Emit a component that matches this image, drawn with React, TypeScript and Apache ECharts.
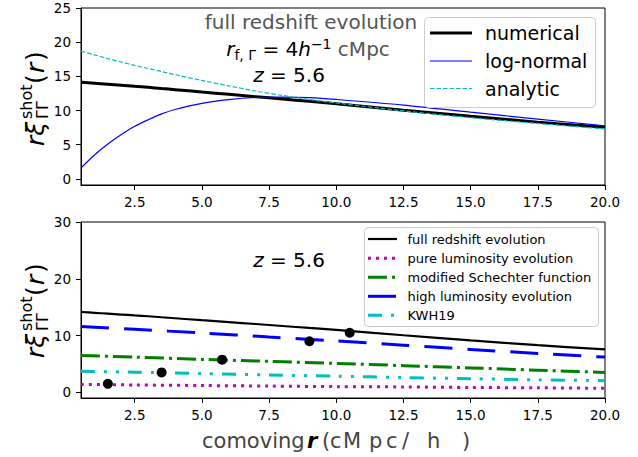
import React, { useEffect, useRef } from "react";
import * as echarts from "echarts";

// ---- data ----
const rTop = [0.5, 1, 1.5, 2, 2.5, 3, 3.5, 4, 5, 6, 7, 8, 9, 10, 12.5, 15, 17.5, 20];
const numerical = [14.15, 14.0, 13.85, 13.7, 13.55, 13.4, 13.22, 13.05, 12.7, 12.37, 12.03, 11.68, 11.34, 11.0, 10.05, 9.15, 8.3, 7.55];
const logNormal = [1.6, 3.5, 5.1, 6.5, 7.7, 8.65, 9.5, 10.15, 11.05, 11.6, 11.9, 11.97, 11.88, 11.62, 10.8, 9.75, 8.75, 7.75];
const analytic = [18.7, 18.15, 17.6, 17.1, 16.6, 16.15, 15.7, 15.25, 14.4, 13.6, 12.85, 12.2, 11.6, 11.1, 9.95, 8.95, 8.1, 7.3];

const rBot = [0.5, 2.5, 5, 7.5, 10, 12.5, 15, 17.5, 20];
const highLum = [11.6, 11.1, 10.45, 9.75, 9.05, 8.3, 7.55, 6.85, 6.2];
const modSchechter = [6.5, 6.2, 5.8, 5.45, 5.1, 4.7, 4.3, 3.9, 3.5];
const kwh19 = [3.7, 3.55, 3.3, 3.05, 2.85, 2.6, 2.4, 2.2, 2.05];
const pureLum = [1.4, 1.3, 1.2, 1.1, 1.0, 0.95, 0.85, 0.8, 0.7];
const dotR = [1.5, 3.5, 5.75, 9, 10.5];
const dotV = [1.5, 3.5, 5.75, 9, 10.5];

const xTicks = [2.5, 5, 7.5, 10, 12.5, 15, 17.5, 20];
const yTicksTop = [0, 5, 10, 15, 20, 25];
const yTicksBot = [0, 10, 20, 30];

const topLegend = ["numerical", "log-normal", "analytic"];
const botLegend = [
  "full redshift evolution",
  "pure luminosity evolution",
  "modified Schechter function",
  "high luminosity evolution",
  "KWH19",
];

const FONT = "DejaVu Sans";
const zip = (xs: number[], ys: number[]) => xs.map((x, i) => [x, ys[i]]);

const styles = {
  numerical: { color: "#000000", width: 3, type: "solid" as any },
  logNormal: { color: "#0000ff", width: 1.2, type: "solid" as any },
  analytic: { color: "#00bfbf", width: 1.2, type: [4.5, 2] as any },
  full: { color: "#000000", width: 2.2, type: "solid" as any },
  pure: { color: "#bf00bf", width: 3, type: [3, 5] as any },
  mod: { color: "#008000", width: 3, type: [19, 5, 3, 5] as any },
  high: { color: "#0000ff", width: 3, type: [28, 15] as any },
  kwh: { color: "#00bfbf", width: 3, type: [14, 9, 3, 9, 3, 9] as any },
};

function lineSeries(name: string, xi: number, data: number[][], st: any, z = 2) {
  return {
    name,
    type: "line",
    xAxisIndex: xi,
    yAxisIndex: xi,
    data,
    showSymbol: false,
    smooth: 0.3,
    z,
    lineStyle: { color: st.color, width: st.width, type: st.type, cap: "butt" },
    itemStyle: { color: st.color },
  };
}

function legendSample(x1: number, x2: number, y: number, st: any) {
  return {
    type: "line",
    z: 101,
    shape: { x1, y1: y, x2, y2: y },
    style: {
      stroke: st.color,
      lineWidth: st.width,
      lineDash: Array.isArray(st.type) ? st.type : null,
      lineCap: "butt",
    },
  };
}

function txt(x: number, y: number, text: string, font: string, fill = "#000", align = "left", z = 101) {
  return {
    type: "text",
    z,
    x,
    y,
    style: {
      text,
      fill,
      font,
      textAlign: align,
      textVerticalAlign: "middle",
      align,
      verticalAlign: "middle",
    },
  };
}

function yLabel(cx: number, cyBottom: number) {
  return {
    type: "group",
    x: cx,
    y: cyBottom,
    rotation: Math.PI / 2,
    z: 100,
    children: [
      txt(0, 0, "rξ", `italic 25px "${FONT}"`),
      txt(27, -9, "shot", `16px "${FONT}"`),
      txt(27, 7, "ΓΓ", `16px "${FONT}"`),
      txt(62, 0, "(", `25px "${FONT}"`),
      txt(73, 0, "r", `italic 25px "${FONT}"`),
      txt(85, 0, ")", `25px "${FONT}"`),
    ],
  };
}

function zText(x: number, y: number) {
  return {
    type: "text",
    z: 100,
    x,
    y,
    style: {
      text: "{i|z} = 5.6",
      fill: "#000",
      font: `20px "${FONT}"`,
      textAlign: "center",
      textVerticalAlign: "middle",
      align: "center",
      verticalAlign: "middle",
      rich: {
        i: { fontStyle: "italic", fontSize: 20, fontFamily: FONT, fill: "#000" },
      },
    },
  };
}

export default function App() {
  const ref = useRef<HTMLDivElement>(null);
  useEffect(() => {
    if (!ref.current) return;
    const chart = echarts.init(ref.current, null, { renderer: "svg" });

    const axisCommon = {
      type: "value",
      splitLine: { show: false },
      axisLine: { show: true, onZero: false, lineStyle: { color: "#000", width: 1 } },
      axisTick: { show: true, inside: false, length: 5, lineStyle: { color: "#000", width: 1 } },
    };

    const xAxis = (gi: number) => ({
      ...axisCommon,
      gridIndex: gi,
      min: 0.5,
      max: 20,
      axisTick: { ...axisCommon.axisTick, customValues: xTicks },
      axisLabel: {
        customValues: xTicks,
        formatter: (v: number) => v.toFixed(1),
        color: "#000",
        fontSize: 13.5,
        fontFamily: FONT,
        margin: 10,
        showMinLabel: true,
        showMaxLabel: true,
      },
    });

    const yAxis = (gi: number, min: number, max: number, ticks: number[]) => ({
      ...axisCommon,
      gridIndex: gi,
      min,
      max,
      axisTick: { ...axisCommon.axisTick, customValues: ticks },
      axisLabel: {
        customValues: ticks,
        color: "#000",
        fontSize: 13.5,
        fontFamily: FONT,
        margin: 10,
        showMinLabel: true,
        showMaxLabel: true,
      },
    });

    const topRows = [33, 61, 88.5];
    const botRows = [239, 258.2, 277.3, 296.3, 315.3];
    const topStyles = [styles.numerical, styles.logNormal, styles.analytic];
    const botStyles = [styles.full, styles.pure, styles.mod, styles.high, styles.kwh];

    const xl = `21px "${FONT}"`;
    const xlGray = "#444";

    const graphics: any[] = [
      // top annotation
      txt(311, 22, "full redshift evolution", `20px "${FONT}"`, "#555", "center", 100),
      {
        type: "text",
        z: 100,
        x: 308,
        y: 49,
        style: {
          text: "{i|r}{sub|f, Γ}{n| = 4}{i|h}{sup|−1}{g| cMpc}",
          fill: "#000",
          font: `20px "${FONT}"`,
          textAlign: "center",
          textVerticalAlign: "middle",
          align: "center",
          verticalAlign: "middle",
          rich: {
            i: { fontStyle: "italic", fontSize: 20, fontFamily: FONT, fill: "#000", lineHeight: 25, verticalAlign: "middle" },
            n: { fontSize: 20, fontFamily: FONT, fill: "#000", lineHeight: 25, verticalAlign: "middle" },
            sub: { fontSize: 14, fontFamily: FONT, fill: "#000", lineHeight: 11, verticalAlign: "bottom" },
            sup: { fontSize: 14, fontFamily: FONT, fill: "#000", lineHeight: 11, verticalAlign: "top" },
            g: { fontSize: 20, fontFamily: FONT, fill: "#555", lineHeight: 25, verticalAlign: "middle" },
          },
        },
      },
      zText(289, 75),
      zText(289, 260),
      // top legend
      {
        type: "rect",
        z: 100,
        shape: { x: 424.5, y: 17.5, width: 171, height: 90, r: 4 },
        style: { fill: "rgba(255,255,255,0.8)", stroke: "#cccccc", lineWidth: 1 },
      },
      ...topRows.map((y, i) => legendSample(430, 472, y, topStyles[i])),
      ...topRows.map((y, i) => txt(485, y, topLegend[i], `19px "${FONT}"`)),
      // bottom legend
      {
        type: "rect",
        z: 100,
        shape: { x: 364.5, y: 227.5, width: 234, height: 99, r: 4 },
        style: { fill: "rgba(255,255,255,0.8)", stroke: "#cccccc", lineWidth: 1 },
      },
      ...botRows.map((y, i) => legendSample(368, 397, y, botStyles[i])),
      ...botRows.map((y, i) => txt(407.5, y, botLegend[i], `13px "${FONT}"`)),
      // y labels
      yLabel(35, 146),
      yLabel(35, 358),
      // x label (mathtext-like spacing)
      txt(202, 441, "comoving", xl, xlGray, "left", 100),
      txt(307, 441, "r", `italic bold ${xl}`, "#000", "left", 100),
      txt(322, 441, "(", xl, xlGray, "left", 100),
      txt(330, 441, "c", xl, xlGray, "left", 100),
      txt(343, 441, "M", xl, xlGray, "left", 100),
      txt(369, 441, "p", xl, xlGray, "left", 100),
      txt(386, 441, "c", xl, xlGray, "left", 100),
      txt(402, 441, "/", xl, xlGray, "left", 100),
      txt(427, 441, "h", xl, xlGray, "left", 100),
      txt(462, 441, ")", xl, xlGray, "left", 100),
    ];

    chart.setOption({
      animation: false,
      backgroundColor: "#ffffff",
      grid: [
        { left: 81, top: 8, width: 524, height: 177, show: true, borderColor: "#000", borderWidth: 1, backgroundColor: "transparent" },
        { left: 81, top: 222, width: 524, height: 176, show: true, borderColor: "#000", borderWidth: 1, backgroundColor: "transparent" },
      ],
      xAxis: [xAxis(0), xAxis(1)],
      yAxis: [yAxis(0, -0.9, 25, yTicksTop), yAxis(1, -1, 30, yTicksBot)],
      series: [
        lineSeries("analytic", 0, zip(rTop, analytic), styles.analytic, 4),
        lineSeries("log-normal", 0, zip(rTop, logNormal), styles.logNormal, 3),
        lineSeries("numerical", 0, zip(rTop, numerical), styles.numerical, 2),
        lineSeries("full redshift evolution", 1, zip(rTop, numerical), styles.full),
        lineSeries("pure luminosity evolution", 1, zip(rBot, pureLum), styles.pure),
        lineSeries("modified Schechter function", 1, zip(rBot, modSchechter), styles.mod),
        lineSeries("high luminosity evolution", 1, zip(rBot, highLum), styles.high),
        lineSeries("KWH19", 1, zip(rBot, kwh19), styles.kwh),
        {
          name: "points",
          type: "scatter",
          xAxisIndex: 1,
          yAxisIndex: 1,
          data: zip(dotR, dotV),
          symbol: "circle",
          symbolSize: 10,
          itemStyle: { color: "#000", opacity: 1 },
          z: 10,
        },
      ],
      graphic: graphics,
    });
    return () => chart.dispose();
  }, []);
  return <div ref={ref} style={{ width: 638, height: 457, position: "absolute", left: 0, top: 0 }} />;
}
